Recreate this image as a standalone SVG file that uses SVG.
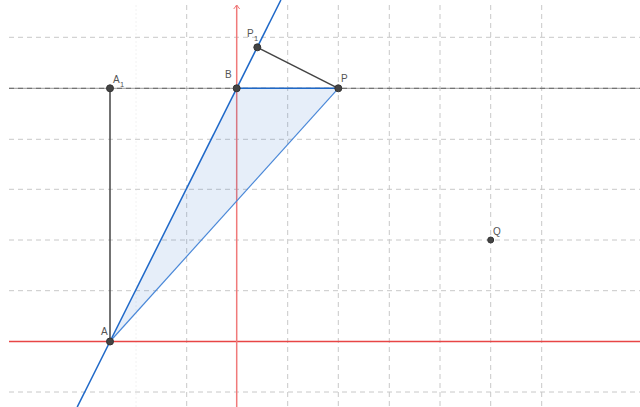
<svg xmlns="http://www.w3.org/2000/svg" width="640" height="407" viewBox="0 0 640 407">
<defs>
<style>
.grid{stroke:#c8c8c8;stroke-width:1;stroke-dasharray:5,4;fill:none}
.faint{stroke:#f2f2f2;stroke-width:1;stroke-dasharray:2,2;fill:none}
.seg{stroke:#444;stroke-width:1.5;fill:none}
.blue{stroke:#1e68c8;stroke-width:1.5;fill:none}
.blue2{stroke:#4a88d8;stroke-width:1.2;fill:none}
.pt{fill:#444;stroke:#333;stroke-width:1}
.lbl{font-family:"Liberation Sans",Arial,sans-serif;font-size:10px;fill:#555}
.sub{font-family:"Liberation Sans",Arial,sans-serif;font-size:7.5px;fill:#555}
</style>
</defs>
<rect width="640" height="407" fill="#ffffff"/>
<g id="grid">
<line class="faint" x1="136" y1="5" x2="136" y2="407"/>
<line class="grid" x1="186.7" y1="5" x2="186.7" y2="407"/>
<line class="grid" x1="287.7" y1="5" x2="287.7" y2="407"/>
<line class="grid" x1="338.3" y1="5" x2="338.3" y2="407"/>
<line class="grid" x1="389.3" y1="5" x2="389.3" y2="407"/>
<line class="grid" x1="440" y1="5" x2="440" y2="407"/>
<line class="grid" x1="490.7" y1="5" x2="490.7" y2="407"/>
<line class="grid" x1="541.7" y1="5" x2="541.7" y2="407"/>
<line class="grid" x1="9" y1="37.3" x2="640" y2="37.3"/>
<line class="grid" x1="9" y1="139.3" x2="640" y2="139.3"/>
<line class="grid" x1="9" y1="189.3" x2="640" y2="189.3"/>
<line class="grid" x1="9" y1="240" x2="640" y2="240"/>
<line class="grid" x1="9" y1="290.7" x2="640" y2="290.7"/>
<line class="grid" x1="9" y1="392" x2="640" y2="392"/>
</g>
<g id="axes">
<line x1="9" y1="341.5" x2="640" y2="341.5" stroke="#e84545" stroke-width="1.3"/>
<line x1="236.7" y1="5" x2="236.7" y2="407" stroke="#f07a7a" stroke-width="1.5"/>
<path d="M233.7,9 L236.7,5 L239.7,9" stroke="#f07a7a" stroke-width="1" fill="none"/>
</g>
<g id="connectors">
<line x1="9" y1="88.3" x2="640" y2="88.3" stroke="#999" stroke-width="1"/>
<line x1="9" y1="88.3" x2="640" y2="88.3" stroke="#666" stroke-width="1" stroke-dasharray="5,4"/>
<polygon points="110,341.5 236.7,88.3 338.3,88.3" fill="#1e68c8" fill-opacity="0.11" stroke="none"/>
<line class="blue2" x1="110" y1="341.5" x2="338.3" y2="88.3"/>
<line class="blue" x1="236.7" y1="88.3" x2="338.3" y2="88.3"/>
<line class="blue" x1="77.2" y1="407" x2="280.9" y2="0"/>
<line class="seg" x1="110" y1="341.5" x2="110" y2="88.3"/>
<line class="seg" x1="257.3" y1="47.3" x2="338.3" y2="88.3"/>
</g>
<g id="A"><circle class="pt" cx="110" cy="341.5" r="3.5"/><text class="lbl" x="101" y="335">A</text></g>
<g id="A1"><circle class="pt" cx="110" cy="88.3" r="3.5"/><text class="lbl" x="113" y="83">A</text><text class="sub" x="120" y="87">1</text></g>
<g id="B"><circle class="pt" cx="236.7" cy="88.3" r="3.5"/><text class="lbl" x="225" y="78">B</text></g>
<g id="P"><circle class="pt" cx="338.3" cy="88.3" r="3.5"/><text class="lbl" x="341" y="82">P</text></g>
<g id="P1"><circle class="pt" cx="257.3" cy="47.3" r="3.5"/><text class="lbl" x="247" y="37">P</text><text class="sub" x="254" y="41">1</text></g>
<g id="Q"><circle class="pt" cx="490.7" cy="240" r="3"/><text class="lbl" x="493" y="235" font-size="8">Q</text></g>
</svg>
